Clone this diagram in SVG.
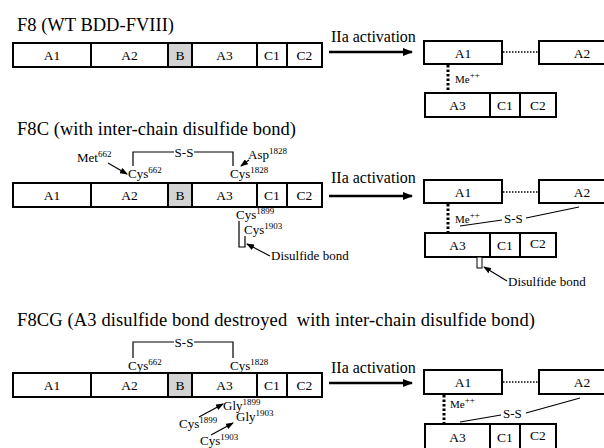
<svg xmlns="http://www.w3.org/2000/svg" width="604" height="448" viewBox="0 0 604 448" font-family="'Liberation Serif', 'DejaVu Serif', serif">
<style>
text{font-family:'Liberation Serif','DejaVu Serif',serif;fill:#000}
.title{font-size:18.5px}
.lab{font-size:13.5px;text-anchor:middle}
.act{font-size:16px}
.sm{font-size:13px}
.sup{font-size:9px}
.me{font-size:11px}
.box{fill:#fff;stroke:#000;stroke-width:2}
.b{fill:#d3d3d3;stroke:#000;stroke-width:2}
.ln{fill:none;stroke:#000;stroke-width:1.2}
.dot{fill:none;stroke:#000;stroke-width:1.5;stroke-dasharray:1.5 1.5}
.vdot{fill:none;stroke:#000;stroke-width:3;stroke-dasharray:2.5 2}
.big{fill:none;stroke:#000;stroke-width:2.5;marker-end:url(#ah)}
.arr{fill:none;stroke:#000;stroke-width:1.2;marker-end:url(#sa)}
</style>
<defs>
<marker id="ah" markerWidth="10" markerHeight="8" refX="9" refY="4" orient="auto" markerUnits="userSpaceOnUse"><path d="M0,0 L10,4 L0,8 Z" fill="#000"/></marker>
<marker id="sa" markerWidth="8" markerHeight="6" refX="7" refY="3" orient="auto" markerUnits="userSpaceOnUse"><path d="M0,0 L8,3 L0,6 Z" fill="#000"/></marker>
</defs>
<rect width="604" height="448" fill="#fff"/>

<!-- Section 1 -->
<text class="title" x="17" y="31" textLength="157" lengthAdjust="spacing">F8 (WT BDD-FVIII)</text>
<g id="bar1">
<rect class="box" x="13" y="43" width="78" height="24"/><text class="lab" x="52" y="60">A1</text>
<rect class="box" x="91" y="43" width="77" height="24"/><text class="lab" x="129.5" y="60">A2</text>
<rect class="b" x="168" y="43" width="24" height="24"/><text class="lab" x="180" y="60">B</text>
<rect class="box" x="192" y="43" width="65" height="24"/><text class="lab" x="224.5" y="60">A3</text>
<rect class="box" x="257" y="43" width="30" height="24"/><text class="lab" x="272" y="60">C1</text>
<rect class="box" x="287" y="43" width="35" height="24"/><text class="lab" x="304.5" y="60">C2</text>
</g>
<g id="act1">
<text class="act" x="331" y="42">IIa activation</text>
<line class="big" x1="329" y1="52" x2="412" y2="52"/>
</g>
<g id="prod1">
<rect class="box" x="424" y="41" width="78" height="23"/><text class="lab" x="463" y="58">A1</text>
<rect class="box" x="539" y="41" width="70" height="23"/><text class="lab" x="582" y="58">A2</text>
<line class="dot" x1="503" y1="52" x2="538" y2="52"/>
<line class="vdot" x1="448" y1="65" x2="448" y2="92"/>
<text class="me" x="455" y="83">Me<tspan class="sup" dy="-5">++</tspan></text>
<rect class="box" x="425" y="93" width="65" height="24"/><text class="lab" x="457.5" y="110">A3</text>
<rect class="box" x="490" y="93" width="30" height="24"/><text class="lab" x="505" y="110">C1</text>
<rect class="box" x="520" y="93" width="36" height="24"/><text class="lab" x="538" y="110">C2</text>
</g>

<!-- Section 2 -->
<text class="title" x="17" y="135" textLength="279" lengthAdjust="spacing">F8C (with inter-chain disulfide bond)</text>
<g id="ss2">
<path class="ln" d="M133,166 V152 H174 M194,152 H233 V166"/>
<text class="sm" x="184" y="157" text-anchor="middle">S-S</text>
<text class="sm" x="128" y="178">Cys<tspan class="sup" dy="-5">662</tspan></text>
<text class="sm" x="230" y="178">Cys<tspan class="sup" dy="-5">1828</tspan></text>
<text class="sm" x="77" y="162">Met<tspan class="sup" dy="-5">662</tspan></text>
<line class="arr" x1="108" y1="163" x2="127" y2="174"/>
<text class="sm" x="248" y="159">Asp<tspan class="sup" dy="-5">1828</tspan></text>
<line class="arr" x1="249" y1="160" x2="241" y2="166"/>
</g>
<g id="bar2">
<rect class="box" x="13" y="183" width="78" height="24"/><text class="lab" x="52" y="200">A1</text>
<rect class="box" x="91" y="183" width="77" height="24"/><text class="lab" x="129.5" y="200">A2</text>
<rect class="b" x="168" y="183" width="24" height="24"/><text class="lab" x="180" y="200">B</text>
<rect class="box" x="192" y="183" width="65" height="24"/><text class="lab" x="224.5" y="200">A3</text>
<rect class="box" x="257" y="183" width="30" height="24"/><text class="lab" x="272" y="200">C1</text>
<rect class="box" x="287" y="183" width="35" height="24"/><text class="lab" x="304.5" y="200">C2</text>
</g>
<g id="ds2">
<text class="sm" x="236" y="219">Cys<tspan class="sup" dy="-5">1899</tspan></text>
<text class="sm" x="244" y="234">Cys<tspan class="sup" dy="-5">1903</tspan></text>
<path class="ln" d="M239,221 V247 H245 V236"/>
<line class="arr" x1="270" y1="256" x2="247" y2="244"/>
<text class="sm" x="271" y="260">Disulfide bond</text>
</g>
<g id="act2">
<text class="act" x="331" y="183">IIa activation</text>
<line class="big" x1="329" y1="196" x2="412" y2="196"/>
</g>
<g id="prod2">
<rect class="box" x="424" y="180" width="78" height="23"/><text class="lab" x="463" y="197">A1</text>
<rect class="box" x="539" y="180" width="70" height="23"/><text class="lab" x="582" y="197">A2</text>
<line class="dot" x1="503" y1="192" x2="538" y2="192"/>
<line class="vdot" x1="448" y1="204" x2="448" y2="232"/>
<text class="me" x="455" y="223">Me<tspan class="sup" dy="-5">++</tspan></text>
<line class="ln" x1="460" y1="226" x2="502" y2="220"/>
<text class="sm" x="504" y="223">S-S</text>
<line class="ln" x1="526" y1="218" x2="579" y2="207"/>
<rect class="box" x="425" y="233" width="65" height="24"/><text class="lab" x="457.5" y="250">A3</text>
<rect class="box" x="490" y="233" width="30" height="24"/><text class="lab" x="505" y="250">C1</text>
<rect class="box" x="520" y="233" width="36" height="24"/><text class="lab" x="538" y="248">C2</text>
<rect x="477" y="257" width="5" height="11" fill="#fff" stroke="#000" stroke-width="1"/>
<line class="arr" x1="507" y1="281" x2="484" y2="267"/>
<text class="sm" x="508" y="286">Disulfide bond</text>
</g>

<!-- Section 3 -->
<text class="title" x="17" y="326" xml:space="preserve" textLength="518" lengthAdjust="spacing">F8CG (A3 disulfide bond destroyed  with inter-chain disulfide bond)</text>
<g id="ss3">
<path class="ln" d="M133,358 V342 H174 M194,342 H233 V358"/>
<text class="sm" x="184" y="347" text-anchor="middle">S-S</text>
<text class="sm" x="128" y="370">Cys<tspan class="sup" dy="-5">662</tspan></text>
<text class="sm" x="230" y="370">Cys<tspan class="sup" dy="-5">1828</tspan></text>
</g>
<g id="bar3">
<rect class="box" x="13" y="373" width="78" height="24"/><text class="lab" x="52" y="390">A1</text>
<rect class="box" x="91" y="373" width="77" height="24"/><text class="lab" x="129.5" y="390">A2</text>
<rect class="b" x="168" y="373" width="24" height="24"/><text class="lab" x="180" y="390">B</text>
<rect class="box" x="192" y="373" width="65" height="24"/><text class="lab" x="224.5" y="390">A3</text>
<rect class="box" x="257" y="373" width="30" height="24"/><text class="lab" x="272" y="390">C1</text>
<rect class="box" x="287" y="373" width="35" height="24"/><text class="lab" x="304.5" y="390">C2</text>
</g>
<g id="mut3">
<text class="sm" x="223" y="410">Gly<tspan class="sup" dy="-5">1899</tspan></text>
<text class="sm" x="236" y="421">Gly<tspan class="sup" dy="-5">1903</tspan></text>
<text class="sm" x="179" y="428">Cys<tspan class="sup" dy="-5">1899</tspan></text>
<text class="sm" x="200" y="445">Cys<tspan class="sup" dy="-5">1903</tspan></text>
<line class="arr" x1="199" y1="417" x2="223" y2="404"/>
<line class="arr" x1="211" y1="435" x2="233" y2="423"/>
</g>
<g id="act3">
<text class="act" x="331" y="373">IIa activation</text>
<line class="big" x1="329" y1="383" x2="412" y2="383"/>
</g>
<g id="prod3">
<rect class="box" x="424" y="370" width="78" height="24"/><text class="lab" x="463" y="387">A1</text>
<rect class="box" x="539" y="370" width="70" height="24"/><text class="lab" x="582" y="387">A2</text>
<line class="dot" x1="503" y1="382" x2="538" y2="382"/>
<line class="vdot" x1="444" y1="395" x2="444" y2="423"/>
<text class="me" x="450" y="408">Me<tspan class="sup" dy="-5">++</tspan></text>
<line class="ln" x1="460" y1="422" x2="501" y2="415"/>
<text class="sm" x="503" y="418">S-S</text>
<line class="ln" x1="526" y1="413" x2="580" y2="398"/>
<rect class="box" x="425" y="424" width="65" height="26"/><text class="lab" x="457.5" y="442">A3</text>
<rect class="box" x="490" y="424" width="30" height="26"/><text class="lab" x="505" y="442">C1</text>
<rect class="box" x="520" y="424" width="36" height="26"/><text class="lab" x="538" y="440">C2</text>
</g>
</svg>
